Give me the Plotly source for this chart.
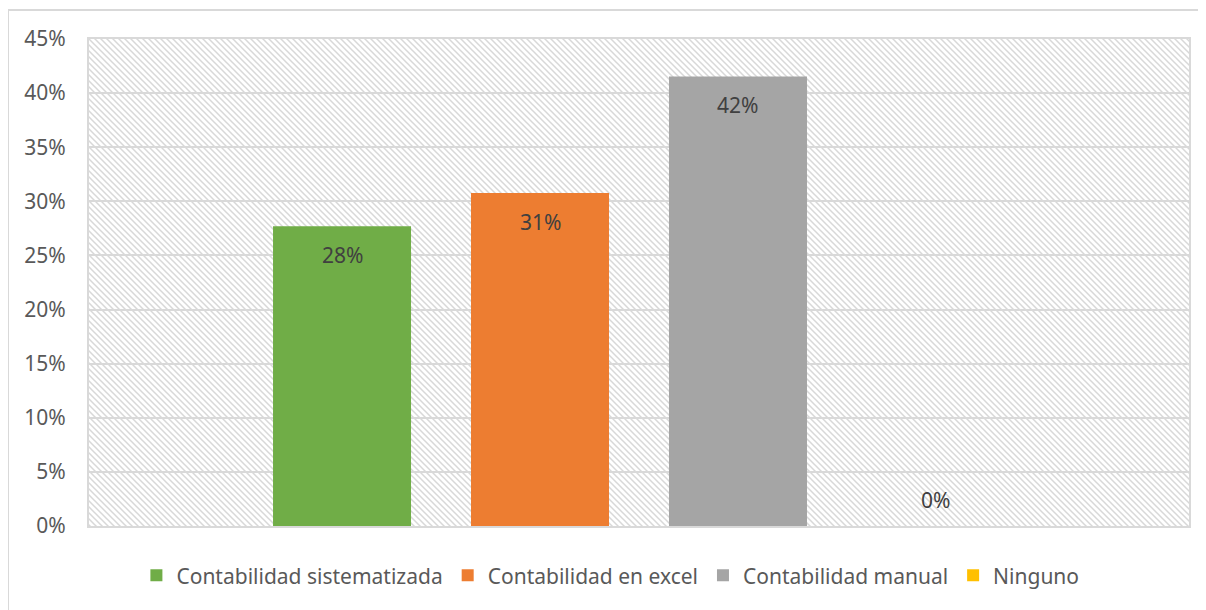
import base64
import plotly.graph_objects as go

# --------------------------------------------------------------
# Data
# --------------------------------------------------------------
series_names = [
    "Contabilidad sistematizada",
    "Contabilidad en excel",
    "Contabilidad manual",
    "Ninguno",
]
series_values = [0.2769, 0.3077, 0.4154, 0.0]
series_colors = ["#70AD47", "#ED7D31", "#A5A5A5", "#FFC000"]
y_ticks = [0, 0.05, 0.10, 0.15, 0.20, 0.25, 0.30, 0.35, 0.40, 0.45]

# the page body adds an 8px margin, so the figure is a bit smaller
OFF = 8
W, H = 1206 - OFF, 610 - OFF
L, R, T, B = 89 - OFF, 17, 39 - OFF, 84
PW, PH = W - L - R, H - T - B

FONT = "Noto Sans"
GRID = "#D9D9D9"
FS = 21

# hatched plot background (Excel "light downward diagonal")
svg = f"""<svg xmlns='http://www.w3.org/2000/svg' width='{PW}' height='{PH}'>
<defs><pattern id='p' width='6' height='6' patternUnits='userSpaceOnUse'>
<rect width='6' height='6' fill='white'/>
<path d='M-2,-2 L8,8 M-2,4 L2,8 M4,-2 L8,2' stroke='#D8D8D8' stroke-width='1.5'/>
</pattern></defs>
<rect width='{PW}' height='{PH}' fill='url(#p)'/></svg>"""
bg_uri = "data:image/svg+xml;base64," + base64.b64encode(svg.encode()).decode()

fig = go.Figure()

for i, (name, val, col) in enumerate(zip(series_names, series_values, series_colors)):
    fig.add_trace(go.Bar(
        x=[i],
        y=[val],
        name=name,
        width=0.697,
        marker=dict(color=col, line=dict(width=0)),
        hoverinfo="skip",
    ))
    # data label at the inside end of the bar (above the baseline when zero)
    fig.add_annotation(
        x=i, y=val, xref="x", yref="y",
        text=f"{val:.0%}",
        showarrow=False,
        yanchor="middle",
        yshift=-29 if val > 0 else 26,
        font=dict(family=FONT, size=FS, color="#404040"),
    )

fig.update_layout(
    width=W, height=H,
    margin=dict(l=L, r=R, t=T, b=B),
    paper_bgcolor="white",
    plot_bgcolor="rgba(0,0,0,0)",
    font=dict(family=FONT, size=FS, color="#595959"),
    showlegend=True,
    legend=dict(
        orientation="h",
        x=0.474, xanchor="center",
        y=-0.06, yanchor="top",
        font=dict(family=FONT, size=FS, color="#595959"),
        itemclick=False,
    ),
    images=[dict(
        source=bg_uri, xref="paper", yref="paper",
        x=0, y=1, sizex=1, sizey=1,
        xanchor="left", yanchor="top",
        sizing="stretch", layer="below",
    )],
    shapes=[dict(
        type="rect", xref="paper", yref="paper",
        x0=(8 - 89) / PW, x1=(1216 - 89) / PW,
        y0=(526 - 620) / PH, y1=(526 - 10) / PH,
        line=dict(color=GRID, width=2),
        layer="below",
    )],
)

fig.update_xaxes(
    range=[-1.278, 4.278],
    showticklabels=False,
    showgrid=False,
    zeroline=False,
    showline=True, linecolor=GRID, linewidth=2, mirror=True,
)
fig.update_yaxes(
    range=[0, 0.45],
    tickvals=y_ticks,
    tickformat=".0%",
    showgrid=True, gridcolor=GRID, gridwidth=2,
    zeroline=False,
    showline=True, linecolor=GRID, linewidth=2, mirror=True,
    ticks="", ticklabelstandoff=17,
    tickfont=dict(family=FONT, size=FS, color="#595959"),
)

fig.write_html("out.html")
